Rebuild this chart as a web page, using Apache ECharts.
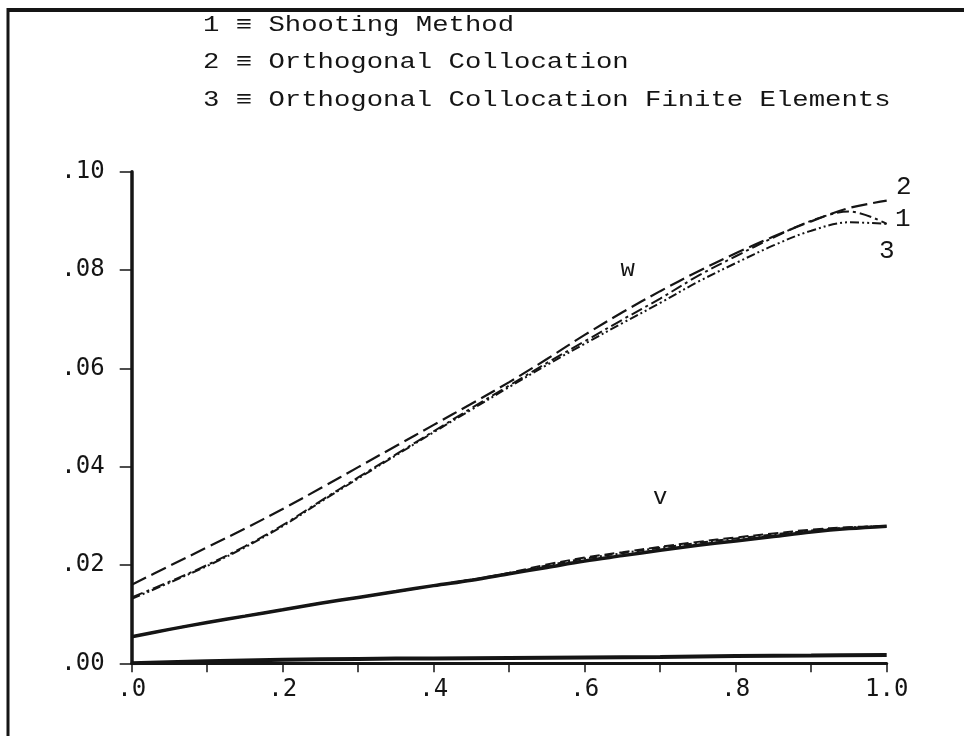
<!DOCTYPE html>
<html>
<head>
<meta charset="utf-8">
<script src="https://cdn.jsdelivr.net/npm/echarts@6/dist/echarts.min.js"></script>
<style>
  html, body { margin: 0; padding: 0; background: #fff; }
  #chart { width: 964px; height: 736px; }
</style>
</head>
<body>
<div id="chart"></div>
<script>
// Dimensionless position along the domain
const xValues = [0.00, 0.05, 0.10, 0.15, 0.20, 0.25, 0.30, 0.35, 0.40, 0.45, 0.50,
                 0.55, 0.60, 0.65, 0.70, 0.75, 0.80, 0.85, 0.90, 0.95, 1.00];

// w profiles: 1 = shooting, 2 = orthogonal collocation, 3 = OC finite elements
const w1 = [0.0134, 0.0166, 0.0200, 0.0238, 0.0281, 0.0330, 0.0378, 0.0425, 0.0472, 0.0519, 0.0565,
            0.0611, 0.0655, 0.0699, 0.0742, 0.0788, 0.0828, 0.0866, 0.0900, 0.0919, 0.0894];
const w2 = [0.0160, 0.0198, 0.0236, 0.0274, 0.0314, 0.0356, 0.0399, 0.0442, 0.0485, 0.0528, 0.0572,
            0.0619, 0.0668, 0.0714, 0.0757, 0.0797, 0.0834, 0.0868, 0.0899, 0.0926, 0.0941];
const w3 = [0.0131, 0.0164, 0.0198, 0.0236, 0.0279, 0.0328, 0.0376, 0.0423, 0.0470, 0.0516, 0.0562,
            0.0607, 0.0650, 0.0692, 0.0733, 0.0776, 0.0814, 0.0850, 0.0880, 0.0897, 0.0894];

// v profiles for the same three methods
const v1 = [0.0054, 0.0069, 0.0083, 0.0096, 0.0109, 0.0122, 0.0134, 0.0146, 0.0158, 0.0169, 0.0182,
            0.0195, 0.0208, 0.0219, 0.0230, 0.0240, 0.0249, 0.0258, 0.0267, 0.0274, 0.0279];
const v2 = [0.0054, 0.0069, 0.0083, 0.0096, 0.0109, 0.0122, 0.0134, 0.0146, 0.0158, 0.0170, 0.0184,
            0.0201, 0.0215, 0.0226, 0.0237, 0.0247, 0.0256, 0.0264, 0.0272, 0.0277, 0.0279];
const v3 = [0.0054, 0.0069, 0.0083, 0.0096, 0.0109, 0.0122, 0.0134, 0.0146, 0.0158, 0.0170, 0.0183,
            0.0199, 0.0213, 0.0224, 0.0235, 0.0245, 0.0254, 0.0262, 0.0270, 0.0276, 0.0279];

// third component, lying just above the abscissa
const uX = [0.0, 0.1, 0.2, 0.3, 0.4, 0.5, 0.6, 0.7, 0.8, 0.9, 1.0];
const uValues = [0.0000, 0.0004, 0.0007, 0.0009, 0.0010, 0.0011, 0.0012, 0.0013, 0.0015, 0.0016, 0.0017];

// tick labels
const xTickLabels = ['.0', '.2', '.4', '.6', '.8', '1.0'];
const yTickLabels = ['.00', '.02', '.04', '.06', '.08', '.10'];

// method key
const methodKey = [
  '1 \u2261 Shooting Method',
  '2 \u2261 Orthogonal Collocation',
  '3 \u2261 Orthogonal Collocation Finite Elements'
];

const INK = '#151515';
const pair = (xs, ys) => xs.map((x, i) => [x, ys[i]]);

const chart = echarts.init(document.getElementById('chart'), null, { renderer: 'canvas' });

function lineSeries(name, xs, ys, width, dash) {
  return {
    name: name,
    type: 'line',
    data: pair(xs, ys),
    smooth: 0.35,
    symbol: 'none',
    silent: true,
    animation: false,
    lineStyle: { color: INK, width: width, type: dash, cap: 'butt' }
  };
}

chart.setOption({
  backgroundColor: '#ffffff',
  animation: false,
  grid: { left: 131.7, right: 77.3, top: 171.7, bottom: 72.7 },
  xAxis: {
    type: 'value',
    min: 0, max: 1, interval: 0.1,
    axisLine: { lineStyle: { color: INK, width: 3 } },
    axisTick: { length: 9, lineStyle: { color: INK, width: 1.5 } },
    splitLine: { show: false },
    axisLabel: {
      margin: 14,
      color: INK,
      fontFamily: 'DejaVu Sans Mono',
      fontSize: 24,
      formatter: v => {
        const k = Math.round(v * 10);
        return k % 2 === 0 ? xTickLabels[k / 2] : '';
      }
    }
  },
  yAxis: {
    type: 'value',
    min: 0, max: 0.1, interval: 0.02,
    axisLine: { lineStyle: { color: INK, width: 3.5 } },
    axisTick: { length: 12, lineStyle: { color: INK, width: 1.5 } },
    splitLine: { show: false },
    axisLabel: {
      margin: 27,
      color: INK,
      fontFamily: 'DejaVu Sans Mono',
      fontSize: 24,
      padding: [0, 0, 8, 0],
      formatter: v => yTickLabels[Math.round(v / 0.02)]
    }
  },
  series: [
    lineSeries('u', uX, uValues, 4, 'solid'),
    lineSeries('v3', xValues, v3, 2, [8, 3, 2, 3]),
    lineSeries('v2', xValues, v2, 2, [10, 5]),
    lineSeries('v1', xValues, v1, 3.5, 'solid'),
    lineSeries('w3', xValues, w3, 2, [9, 3, 2, 3, 2, 3]),
    lineSeries('w1', xValues, w1, 2, [12, 4, 3, 4]),
    lineSeries('w2', xValues, w2, 2.2, [16, 6])
  ]
});

// annotations placed from the data coordinates
const toPx = (x, y) => chart.convertToPixel({ gridIndex: 0 }, [x, y]);
const last = arr => arr[arr.length - 1];
const endW1 = toPx(1, last(w1));
const endW2 = toPx(1, last(w2));
const endW3 = toPx(1, last(w3));
const wAt = toPx(0.657, 0.080);
const vAt = toPx(0.700, 0.0336);

// typewriter-style text: a narrower face stretched horizontally for wide pitch
function txt(x, y, s, size, align, stretch) {
  return {
    type: 'text',
    x: x, y: y,
    scaleX: stretch || 1,
    silent: true,
    style: {
      text: s,
      fill: INK,
      font: size + 'px "Liberation Mono", "DejaVu Sans Mono", monospace',
      align: align || 'left',
      verticalAlign: 'middle'
    }
  };
}

const graphics = [
  // page frame: thick top rule and left rule
  { type: 'line', silent: true, shape: { x1: 7, y1: 10, x2: 964, y2: 10 },
    style: { stroke: INK, lineWidth: 4 } },
  { type: 'line', silent: true, shape: { x1: 8, y1: 8, x2: 8, y2: 736 },
    style: { stroke: INK, lineWidth: 3 } },
  txt(203, 25, methodKey[0], 22, 'left', 1.24),
  txt(203, 62, methodKey[1], 22, 'left', 1.24),
  txt(203, 100, methodKey[2], 22, 'left', 1.24),
  txt(endW2[0] + 17, endW2[1] - 14, '2', 26, 'center'),
  txt(endW1[0] + 16, endW1[1] - 5, '1', 26, 'center'),
  txt(endW3[0] + 0, endW3[1] + 27, '3', 26, 'center'),
  txt(wAt[0], wAt[1], 'w', 24, 'center'),
  txt(vAt[0], vAt[1], 'v', 24, 'center')
];

chart.setOption({ graphic: graphics });
</script>
</body>
</html>
